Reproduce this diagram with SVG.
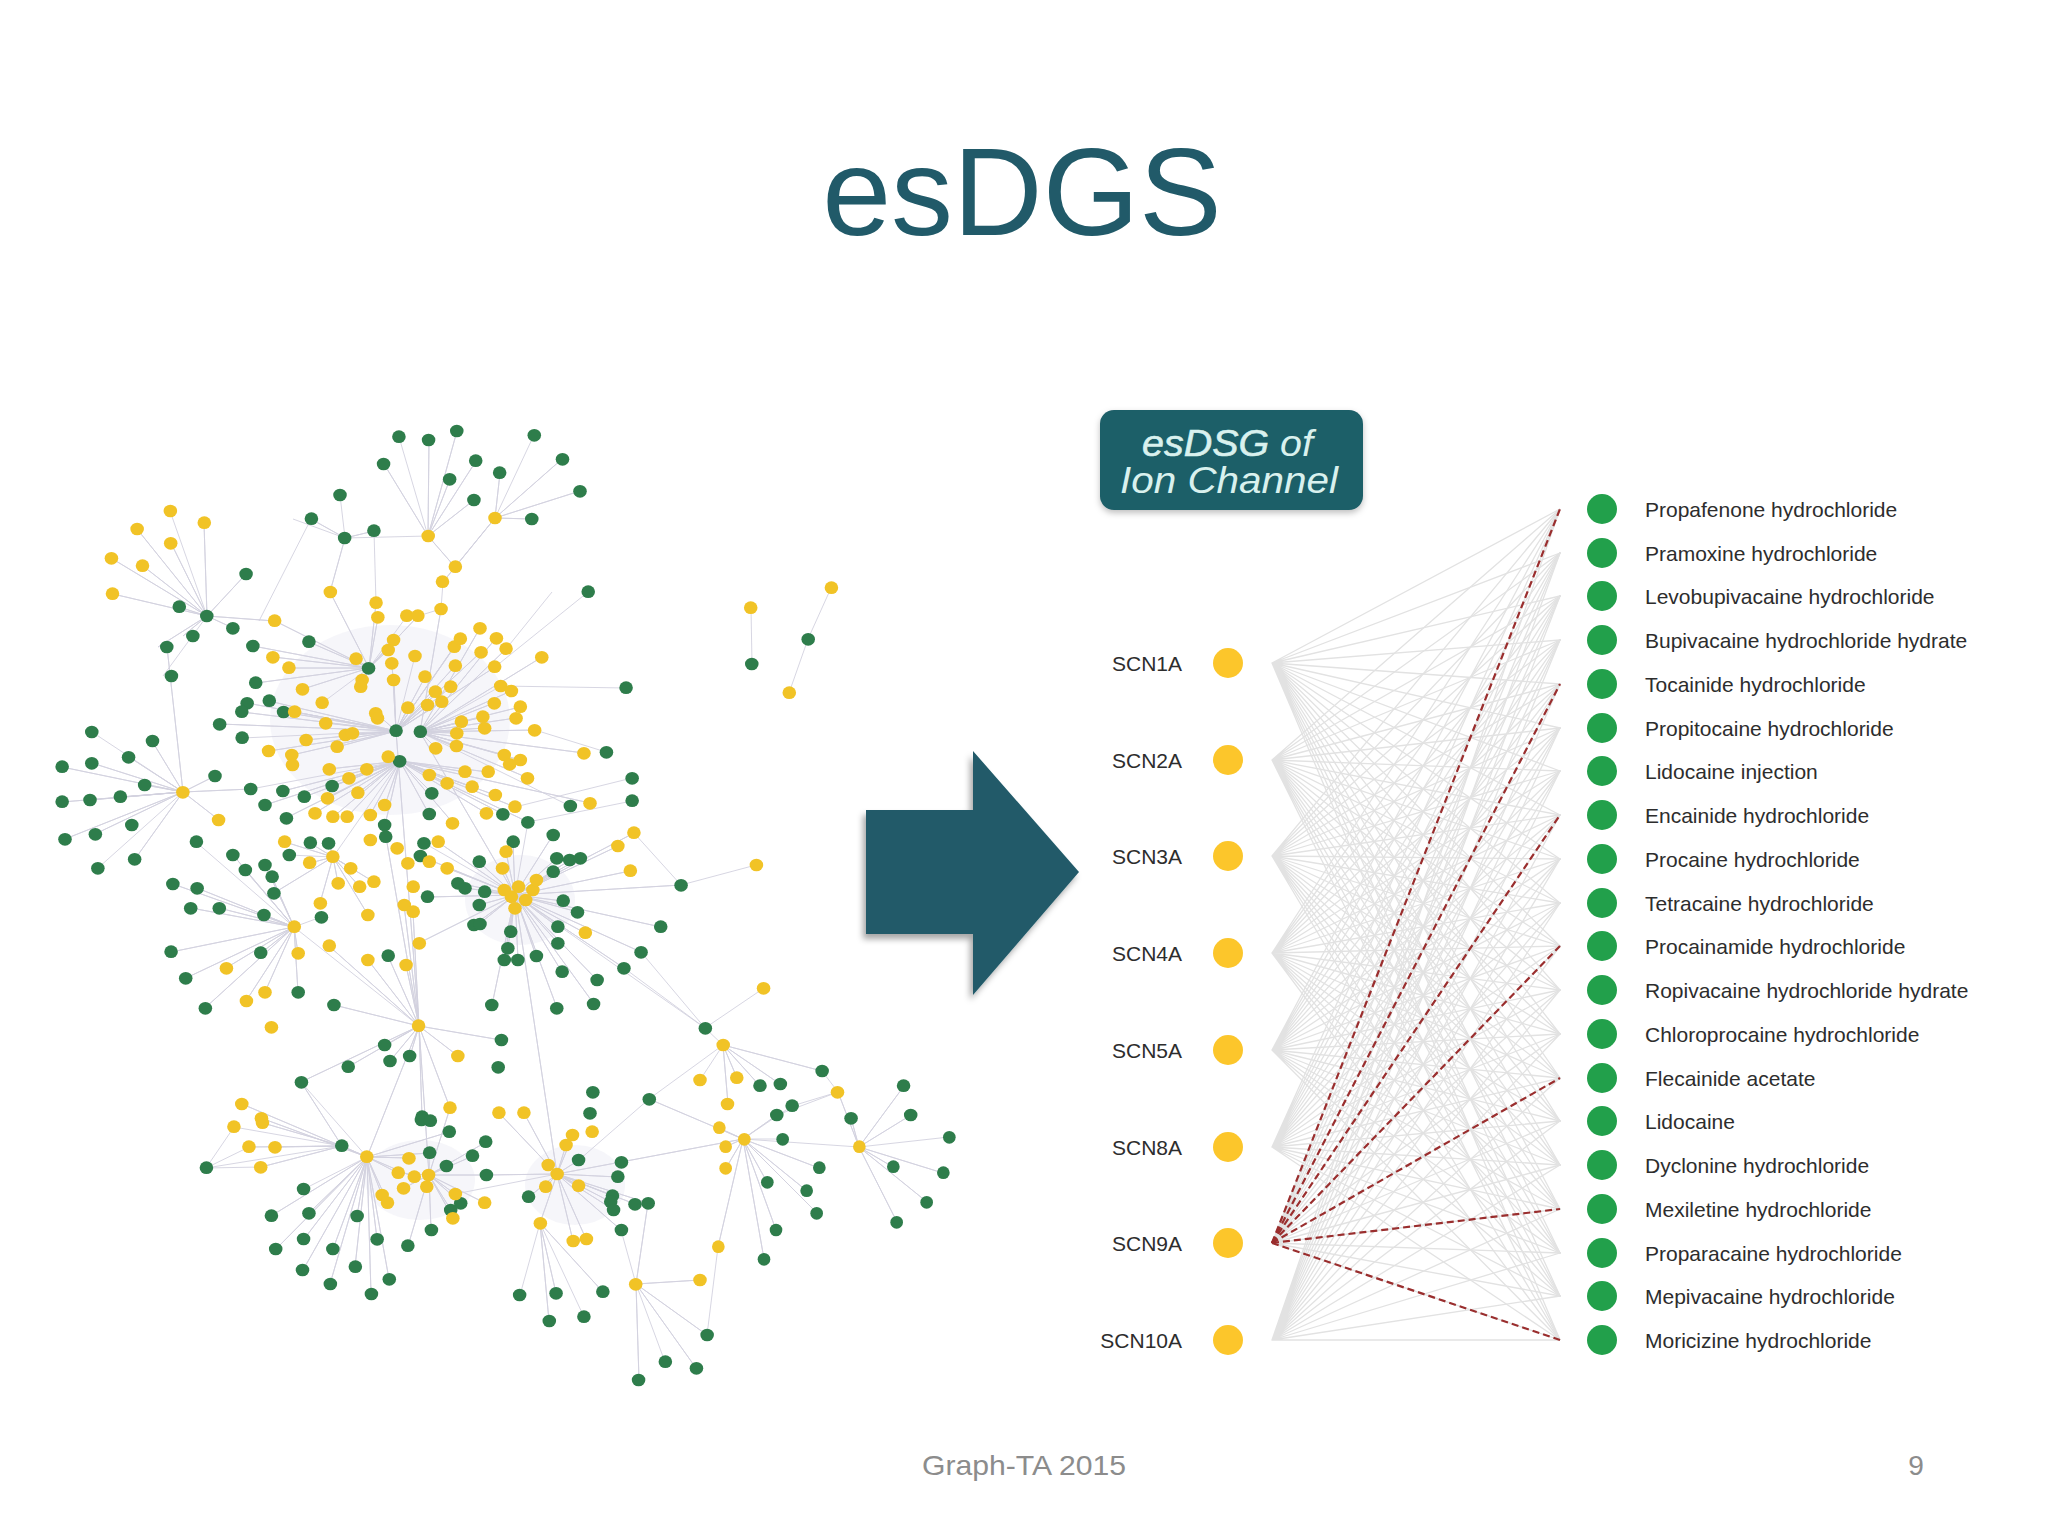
<svg xmlns="http://www.w3.org/2000/svg" width="2048" height="1536" viewBox="0 0 2048 1536">
<defs>
<style>
.sans{font-family:"Liberation Sans",Arial,sans-serif}
.ng{fill:#2e7d4b}
.ny{fill:#f1c326}
.ng circle,.ny circle{r:19px}
.ne{fill:none;stroke:#d3d1df;stroke-width:0.9;stroke-linejoin:round}
.haze{fill:#e6e4f0;opacity:0.35}
.bg{fill:none;stroke:#e2e2e2;stroke-width:1.3;stroke-linejoin:round}
.rd{fill:none;stroke:#9a2e2e;stroke-width:2.2;stroke-dasharray:7 4}
.dg{fill:#22a04b}
.dy{fill:#fcc62b}
.lbl{font-family:"Liberation Sans",Arial,sans-serif;font-size:21px;fill:#2d2d2d}
</style>
<filter id="sh" x="-20%" y="-20%" width="140%" height="140%">
<feDropShadow dx="-3" dy="5" stdDeviation="3" flood-color="#000" flood-opacity="0.35"/>
</filter>
<filter id="sh2" x="-10%" y="-10%" width="120%" height="130%">
<feDropShadow dx="0" dy="3" stdDeviation="3" flood-color="#000" flood-opacity="0.25"/>
</filter>
</defs>
<rect width="2048" height="1536" fill="#ffffff"/>

<text id="title" class="sans" x="1022" y="235" font-size="124" text-anchor="middle" fill="#215a69">esDGS</text>

<g id="network">
<g id="network-haze">
<ellipse class="haze" cx="390" cy="720" rx="120" ry="95"/>
<ellipse class="haze" cx="520" cy="900" rx="55" ry="45"/>
<ellipse class="haze" cx="420" cy="1180" rx="55" ry="40"/>
<ellipse class="haze" cx="575" cy="1185" rx="50" ry="40"/>
</g>
<g id="network-edges">
<path class="ne" d="M399 437L428 536 429 440 428 536 457 431 428 536 384 464 428 536 476 461 428 536 450 479 428 536 474 500 428 536 455 567 428 536 345 538"/>
<path class="ne" d="M534 435L495 518 562 459 495 518 500 473 495 518 580 491 495 518 532 519 495 518 455 567 495 518 443 582"/>
<path class="ne" d="M455 567L443 582 441 609 418 616M374 531L376 603M311 519L259 621"/>
<path class="ne" d="M340 495L345 538 311 519 345 538 374 531 345 538 330 592 345 538 293 519"/>
<path class="ne" d="M170 511L207 616 137 529 207 616 204 523 207 616 171 543 207 616 111 558 207 616 143 566 207 616 113 594 207 616 179 607 207 616 233 628 207 616 183 636 207 616 246 574 207 616 275 621 207 616 158 647 207 616 163 676"/>
<path class="ne" d="M92 732L183 792 62 767 183 792 92 763 183 792 62 802 183 792 90 800 183 792 120 797 183 792 129 757 183 792 152 741 183 792 145 785 183 792 215 776 183 792 251 789 183 792 219 820 183 792 167 647 183 792 65 839 183 792 95 834 183 792 135 859 183 792 98 868"/>
<path class="ne" d="M407 616L369 668 418 616 369 668 376 603 369 668 378 617 369 668 394 640 369 668 388 650 369 668 356 659 369 668 362 680 369 668 303 689 369 668 361 687 369 668 309 642 369 668 273 657 369 668 289 668 369 668 330 592 369 668 275 621 369 668 253 646 369 668 256 683 369 668 322 703"/>
<path class="ne" d="M415 656L396 731 454 647 396 731 460 639 396 731 481 652 396 731 392 663 396 731 455 666 396 731 495 667 396 731 425 677 396 731 394 680 396 731 435 692 396 731 451 687 396 731 408 708 396 731 428 705 396 731 442 702 396 731 376 713 396 731 295 712 396 731 326 723 396 731 306 740 396 731 345 735 396 731 337 747 396 731 269 751 396 731 292 755 396 731 284 712 396 731 269 701 396 731 247 703 396 731 242 712 396 731 220 724 396 731 242 738"/>
<path class="ne" d="M501 686L420 732 511 691 420 732 494 703 420 732 520 707 420 732 516 718 420 732 461 722 420 732 483 717 420 732 485 728 420 732 535 730 420 732 457 733 420 732 456 746 420 732 436 748 420 732 504 755 420 732 520 760 420 732 480 628 420 732 441 609 420 732 506 649 420 732 542 657 420 732 496 638 420 732 584 753 420 732 528 778 420 732 570 806"/>
<path class="ne" d="M388 757L400 761 329 769 400 761 367 769 400 761 429 775 400 761 465 772 400 761 488 772 400 761 349 778 400 761 358 793 400 761 447 783 400 761 472 787 400 761 328 798 400 761 385 805 400 761 315 813 400 761 333 817 400 761 347 817 400 761 370 815 400 761 432 793 400 761 429 814 400 761 503 814 400 761 528 822 400 761 385 825 400 761 332 786 400 761 304 797 400 761 283 791 400 761 265 805 400 761 286 818 400 761 495 795 400 761 515 807 400 761 486 813 400 761 453 823 400 761 590 803 400 761 251 789"/>
<path class="ne" d="M588 592L495 667M552 592L506 649M626 688L501 686M632 778L515 807M632 801L528 822M606 752L535 730M831 588L808 639 789 693M751 608L752 664"/>
<path class="ne" d="M424 843L515 895 420 856 515 895 479 862 515 895 513 842 515 895 553 835 515 895 557 858 515 895 570 860 515 895 580 858 515 895 553 872 515 895 458 883 515 895 465 888 515 895 485 892 515 895 479 905 515 895 428 897 515 895 474 925 515 895 479 924 515 895 563 901 515 895 578 912 515 895 558 927 515 895 511 932 515 895 558 943 515 895 508 948 515 895 504 960 515 895 518 960 515 895 536 956 515 895 562 972 515 895 597 980 515 895 506 852 515 895 503 868 515 895 438 842 515 895 447 868 515 895 585 933 515 895 419 943 515 895 492 1005 515 895 557 1008 515 895 594 1004 515 895 634 833 515 895 618 846 515 895 630 871 515 895 681 885 515 895 661 927 515 895 641 952 515 895 624 968 515 895 420 732 515 895 528 822"/>
<path class="ne" d="M681 885L756 865M681 885L634 833M705 1028L764 988M705 1028L723 1045M705 1028L624 968M705 1028L641 952M705 1028L515 895"/>
<path class="ne" d="M700 1080L723 1045 737 1078 723 1045 760 1086 723 1045 780 1084 723 1045 822 1071 723 1045 728 1104 723 1045 649 1099"/>
<path class="ne" d="M196 842L294 927 233 855 294 927 245 870 294 927 265 865 294 927 272 877 294 927 173 884 294 927 197 888 294 927 191 908 294 927 219 908 294 927 264 915 294 927 171 952 294 927 186 978 294 927 261 953 294 927 226 968 294 927 205 1008 294 927 265 992 294 927 246 1001 294 927 298 992 294 927 298 953 294 927 321 917"/>
<path class="ne" d="M289 855L333 857 310 843 333 857 329 843 333 857 285 842 333 857 338 883 333 857 360 887 333 857 320 903 333 857 274 893 333 857 351 868 333 857 374 882 333 857 368 915 333 857 310 863 333 857 400 761"/>
<path class="ne" d="M385 1045L419 1026 410 1056 419 1026 390 1061 419 1026 348 1067 419 1026 334 1005 419 1026 501 1040 419 1026 458 1056 419 1026 301 1082 419 1026 422 1117 419 1026 450 1108 419 1026 386 837 419 1026 396 731 419 1026 413 912 419 1026 404 905 419 1026 406 965 419 1026 368 960 419 1026 329 946 419 1026 388 956 419 1026 294 927"/>
<path class="ne" d="M304 1189L367 1157 271 1216 367 1157 309 1213 367 1157 357 1216 367 1157 276 1249 367 1157 304 1239 367 1157 333 1249 367 1157 377 1239 367 1157 355 1267 367 1157 303 1270 367 1157 330 1284 367 1157 389 1279 367 1157 371 1294 367 1157 342 1146 367 1157 409 1158 367 1157 398 1173 367 1157 414 1177 367 1157 382 1195 367 1157 388 1203 367 1157 449 1132 367 1157 430 1153 367 1157 242 1104 367 1157 261 1118 367 1157 419 1026 367 1157 301 1082"/>
<path class="ne" d="M234 1127L342 1146 263 1123 342 1146 249 1147 342 1146 275 1147 342 1146 261 1167 342 1146 301 1082 342 1146 206 1168M206 1168L234 1127M206 1168L261 1167M206 1168L249 1147"/>
<path class="ne" d="M430 1153L429 1175 446 1166 429 1175 473 1156 429 1175 486 1142 429 1175 486 1175 429 1175 451 1210 429 1175 461 1203 429 1175 455 1194 429 1175 453 1218 429 1175 485 1203 429 1175 427 1187 429 1175 404 1188 429 1175 431 1230 429 1175 408 1246 429 1175 419 1026 429 1175 450 1108 429 1175 398 1173"/>
<path class="ne" d="M548 1165L557 1174 546 1187 557 1174 579 1186 557 1174 579 1160 557 1174 621 1162 557 1174 618 1177 557 1174 613 1196 557 1174 611 1202 557 1174 614 1210 557 1174 621 1230 557 1174 635 1204 557 1174 648 1203 557 1174 529 1197 557 1174 540 1223 557 1174 573 1241 557 1174 586 1239 557 1174 566 1145 557 1174 573 1135 557 1174 524 1113 557 1174 499 1113 557 1174 515 895 557 1174 486 1175 557 1174 455 1194"/>
<path class="ne" d="M520 1295L540 1223 556 1293 540 1223 603 1292 540 1223 549 1321 540 1223 584 1317"/>
<path class="ne" d="M665 1362L636 1284 696 1368 636 1284 639 1380 636 1284 707 1335 636 1284 648 1203 636 1284 700 1280 636 1284 621 1230"/>
<path class="ne" d="M949 1137L859 1147 893 1167 859 1147 943 1173 859 1147 927 1202 859 1147 897 1222 859 1147 904 1086 859 1147 851 1118 859 1147 911 1115 859 1147 838 1092 859 1147 743 1139"/>
<path class="ne" d="M783 1139L743 1139 819 1168 743 1139 807 1191 743 1139 817 1213 743 1139 767 1182 743 1139 776 1230 743 1139 764 1259 743 1139 718 1247 743 1139 649 1099 743 1139 621 1162 743 1139 726 1168 743 1139 725 1147 743 1139 719 1128 743 1139 777 1115 743 1139 792 1106"/>
<path class="ne" d="M838 1092L777 1115M838 1092L792 1106M838 1092L822 1071M718 1247L707 1335M579 1160L649 1099"/>
</g>

<g id="dots-a" transform="translate(40,410) scale(0.35714,0.33333)">
<g class="ng">
<circle cx="1005" cy="80" r="19"/><circle cx="1088" cy="90" r="19"/><circle cx="1167" cy="63" r="19"/><circle cx="1384" cy="76" r="19"/><circle cx="1463" cy="148" r="19"/><circle cx="962" cy="162" r="19"/><circle cx="1220" cy="152" r="19"/><circle cx="1287" cy="188" r="19"/><circle cx="1147" cy="208" r="19"/><circle cx="1512" cy="244" r="19"/><circle cx="1215" cy="270" r="19"/><circle cx="1377" cy="327" r="19"/><circle cx="840" cy="255" r="19"/><circle cx="760" cy="326" r="19"/><circle cx="853" cy="384" r="19"/><circle cx="935" cy="362" r="19"/><circle cx="577" cy="492" r="19"/><circle cx="1535" cy="545" r="19"/><circle cx="390" cy="590" r="19"/><circle cx="467" cy="618" r="19"/><circle cx="540" cy="655" r="19"/><circle cx="428" cy="678" r="19"/><circle cx="596" cy="708" r="19"/><circle cx="753" cy="695" r="19"/><circle cx="355" cy="711" r="19"/><circle cx="368" cy="798" r="19"/><circle cx="920" cy="775" r="19"/><circle cx="604" cy="818" r="19"/><circle cx="580" cy="880" r="19"/><circle cx="642" cy="872" r="19"/><circle cx="565" cy="905" r="19"/><circle cx="682" cy="906" r="19"/><circle cx="503" cy="943" r="19"/><circle cx="566" cy="983" r="19"/><circle cx="997" cy="962" r="19"/><circle cx="1065" cy="965" r="19"/><circle cx="1007" cy="1054" r="19"/><circle cx="145" cy="966" r="19"/><circle cx="315" cy="993" r="19"/><circle cx="248" cy="1042" r="19"/><circle cx="62" cy="1070" r="19"/><circle cx="145" cy="1060" r="19"/><circle cx="293" cy="1125" r="19"/><circle cx="490" cy="1098" r="19"/><circle cx="62" cy="1175" r="19"/><circle cx="140" cy="1170" r="19"/><circle cx="225" cy="1160" r="19"/><circle cx="257" cy="1245" r="19"/><circle cx="590" cy="1137" r="19"/><circle cx="630" cy="1185" r="19"/><circle cx="680" cy="1143" r="19"/><circle cx="740" cy="1160" r="19"/><circle cx="818" cy="1128" r="19"/><circle cx="690" cy="1225" r="19"/><circle cx="1097" cy="1150" r="19"/><circle cx="1090" cy="1212" r="19"/><circle cx="1296" cy="1213" r="19"/><circle cx="1366" cy="1237" r="19"/><circle cx="1485" cy="1188" r="19"/><circle cx="965" cy="1245" r="19"/>
</g>
<g class="ny">
<circle cx="365" cy="303" r="19"/><circle cx="272" cy="357" r="19"/><circle cx="460" cy="338" r="19"/><circle cx="366" cy="400" r="19"/><circle cx="200" cy="445" r="19"/><circle cx="287" cy="467" r="19"/><circle cx="203" cy="551" r="19"/><circle cx="1087" cy="378" r="19"/><circle cx="1274" cy="324" r="19"/><circle cx="1163" cy="470" r="19"/><circle cx="1127" cy="515" r="19"/><circle cx="1123" cy="597" r="19"/><circle cx="813" cy="546" r="19"/><circle cx="941" cy="578" r="19"/><circle cx="946" cy="622" r="19"/><circle cx="1027" cy="617" r="19"/><circle cx="1058" cy="617" r="19"/><circle cx="657" cy="632" r="19"/><circle cx="1232" cy="655" r="19"/><circle cx="990" cy="690" r="19"/><circle cx="975" cy="720" r="19"/><circle cx="1050" cy="738" r="19"/><circle cx="1160" cy="710" r="19"/><circle cx="1177" cy="686" r="19"/><circle cx="1235" cy="727" r="19"/><circle cx="1278" cy="685" r="19"/><circle cx="1305" cy="716" r="19"/><circle cx="1405" cy="742" r="19"/><circle cx="652" cy="742" r="19"/><circle cx="697" cy="773" r="19"/><circle cx="885" cy="746" r="19"/><circle cx="985" cy="760" r="19"/><circle cx="1163" cy="767" r="19"/><circle cx="1273" cy="770" r="19"/><circle cx="1078" cy="800" r="19"/><circle cx="990" cy="810" r="19"/><circle cx="902" cy="810" r="19"/><circle cx="735" cy="838" r="19"/><circle cx="898" cy="830" r="19"/><circle cx="1290" cy="828" r="19"/><circle cx="1320" cy="843" r="19"/><circle cx="1107" cy="845" r="19"/><circle cx="1150" cy="830" r="19"/><circle cx="790" cy="878" r="19"/><circle cx="1030" cy="893" r="19"/><circle cx="1085" cy="885" r="19"/><circle cx="1125" cy="875" r="19"/><circle cx="1272" cy="880" r="19"/><circle cx="1345" cy="890" r="19"/><circle cx="940" cy="910" r="19"/><circle cx="1333" cy="925" r="19"/><circle cx="945" cy="925" r="19"/><circle cx="1180" cy="935" r="19"/><circle cx="1240" cy="920" r="19"/><circle cx="1245" cy="955" r="19"/><circle cx="713" cy="905" r="19"/><circle cx="800" cy="940" r="19"/><circle cx="1385" cy="961" r="19"/><circle cx="1167" cy="970" r="19"/><circle cx="1166" cy="1008" r="19"/><circle cx="745" cy="990" r="19"/><circle cx="855" cy="975" r="19"/><circle cx="875" cy="970" r="19"/><circle cx="832" cy="1010" r="19"/><circle cx="1108" cy="1015" r="19"/><circle cx="640" cy="1023" r="19"/><circle cx="705" cy="1035" r="19"/><circle cx="707" cy="1065" r="19"/><circle cx="975" cy="1040" r="19"/><circle cx="1300" cy="1035" r="19"/><circle cx="1345" cy="1050" r="19"/><circle cx="1315" cy="1063" r="19"/><circle cx="1523" cy="1030" r="19"/><circle cx="810" cy="1078" r="19"/><circle cx="915" cy="1078" r="19"/><circle cx="1090" cy="1095" r="19"/><circle cx="1190" cy="1085" r="19"/><circle cx="1255" cy="1085" r="19"/><circle cx="1365" cy="1105" r="19"/><circle cx="865" cy="1105" r="19"/><circle cx="400" cy="1147" r="19"/><circle cx="890" cy="1148" r="19"/><circle cx="1140" cy="1120" r="19"/><circle cx="1210" cy="1130" r="19"/><circle cx="1275" cy="1155" r="19"/><circle cx="805" cy="1165" r="19"/><circle cx="965" cy="1185" r="19"/><circle cx="1330" cy="1190" r="19"/><circle cx="1540" cy="1180" r="19"/><circle cx="500" cy="1230" r="19"/><circle cx="770" cy="1210" r="19"/><circle cx="820" cy="1220" r="19"/><circle cx="860" cy="1220" r="19"/><circle cx="925" cy="1215" r="19"/><circle cx="1250" cy="1210" r="19"/><circle cx="1155" cy="1240" r="19"/>
</g>
</g>

<g id="dots-b" transform="translate(400,410) scale(0.35714,0.33333)">
<g class="ng"><circle cx="1143" cy="688" r="19"/><circle cx="985" cy="762" r="19"/><circle cx="633" cy="833" r="19"/><circle cx="650" cy="1105" r="19"/><circle cx="650" cy="1172" r="19"/><circle cx="578" cy="1027" r="19"/></g>
<g class="ny"><circle cx="1208" cy="533" r="19"/><circle cx="982" cy="593" r="19"/><circle cx="1090" cy="848" r="19"/></g>
</g>

<g id="dots-c" transform="translate(40,780) scale(0.35714,0.33333)">
<g class="ng">
<circle cx="70" cy="178" r="19"/><circle cx="155" cy="163" r="19"/><circle cx="438" cy="185" r="19"/><circle cx="265" cy="238" r="19"/><circle cx="162" cy="265" r="19"/><circle cx="540" cy="225" r="19"/><circle cx="575" cy="270" r="19"/><circle cx="630" cy="255" r="19"/><circle cx="650" cy="290" r="19"/><circle cx="698" cy="225" r="19"/><circle cx="757" cy="188" r="19"/><circle cx="808" cy="190" r="19"/><circle cx="372" cy="312" r="19"/><circle cx="440" cy="325" r="19"/><circle cx="655" cy="340" r="19"/><circle cx="422" cy="385" r="19"/><circle cx="502" cy="385" r="19"/><circle cx="627" cy="405" r="19"/><circle cx="788" cy="412" r="19"/><circle cx="968" cy="170" r="19"/><circle cx="1075" cy="190" r="19"/><circle cx="1065" cy="228" r="19"/><circle cx="1230" cy="245" r="19"/><circle cx="1325" cy="185" r="19"/><circle cx="1437" cy="165" r="19"/><circle cx="1447" cy="235" r="19"/><circle cx="1483" cy="240" r="19"/><circle cx="1513" cy="235" r="19"/><circle cx="1437" cy="275" r="19"/><circle cx="1170" cy="310" r="19"/><circle cx="1190" cy="325" r="19"/><circle cx="1245" cy="335" r="19"/><circle cx="1230" cy="375" r="19"/><circle cx="1085" cy="350" r="19"/><circle cx="1215" cy="435" r="19"/><circle cx="1232" cy="432" r="19"/><circle cx="1465" cy="362" r="19"/><circle cx="1505" cy="397" r="19"/><circle cx="1450" cy="440" r="19"/><circle cx="1318" cy="455" r="19"/><circle cx="1450" cy="490" r="19"/><circle cx="1310" cy="505" r="19"/><circle cx="1300" cy="540" r="19"/><circle cx="1338" cy="540" r="19"/><circle cx="1390" cy="528" r="19"/><circle cx="1462" cy="575" r="19"/><circle cx="1560" cy="600" r="19"/><circle cx="975" cy="527" r="19"/><circle cx="618" cy="518" r="19"/><circle cx="367" cy="515" r="19"/><circle cx="408" cy="595" r="19"/><circle cx="723" cy="637" r="19"/><circle cx="463" cy="685" r="19"/><circle cx="823" cy="675" r="19"/><circle cx="1265" cy="675" r="19"/><circle cx="1447" cy="685" r="19"/><circle cx="1550" cy="672" r="19"/><circle cx="1292" cy="780" r="19"/><circle cx="965" cy="795" r="19"/><circle cx="1035" cy="828" r="19"/><circle cx="980" cy="843" r="19"/><circle cx="863" cy="860" r="19"/><circle cx="1283" cy="862" r="19"/><circle cx="1548" cy="937" r="19"/><circle cx="732" cy="907" r="19"/><circle cx="1540" cy="1000" r="19"/><circle cx="1070" cy="1010" r="19"/>
</g>
<g class="ny">
<circle cx="685" cy="185" r="19"/><circle cx="755" cy="248" r="19"/><circle cx="820" cy="230" r="19"/><circle cx="925" cy="180" r="19"/><circle cx="1000" cy="205" r="19"/><circle cx="1030" cy="250" r="19"/><circle cx="1090" cy="245" r="19"/><circle cx="1140" cy="265" r="19"/><circle cx="1115" cy="185" r="19"/><circle cx="1305" cy="215" r="19"/><circle cx="1295" cy="265" r="19"/><circle cx="1300" cy="330" r="19"/><circle cx="1340" cy="320" r="19"/><circle cx="1380" cy="330" r="19"/><circle cx="1390" cy="300" r="19"/><circle cx="1330" cy="385" r="19"/><circle cx="1320" cy="350" r="19"/><circle cx="1360" cy="360" r="19"/><circle cx="835" cy="310" r="19"/><circle cx="895" cy="320" r="19"/><circle cx="935" cy="305" r="19"/><circle cx="870" cy="265" r="19"/><circle cx="1045" cy="320" r="19"/><circle cx="1020" cy="375" r="19"/><circle cx="1045" cy="395" r="19"/><circle cx="785" cy="370" r="19"/><circle cx="918" cy="405" r="19"/><circle cx="712" cy="440" r="19"/><circle cx="1527" cy="458" r="19"/><circle cx="1062" cy="490" r="19"/><circle cx="1025" cy="555" r="19"/><circle cx="918" cy="540" r="19"/><circle cx="810" cy="497" r="19"/><circle cx="723" cy="520" r="19"/><circle cx="522" cy="565" r="19"/><circle cx="630" cy="637" r="19"/><circle cx="578" cy="663" r="19"/><circle cx="648" cy="742" r="19"/><circle cx="1060" cy="737" r="19"/><circle cx="1170" cy="828" r="19"/><circle cx="565" cy="972" r="19"/><circle cx="1148" cy="983" r="19"/><circle cx="1285" cy="998" r="19"/><circle cx="1355" cy="998" r="19"/><circle cx="620" cy="1015" r="19"/>
</g>
</g>

<g id="dots-d" transform="translate(400,780) scale(0.35714,0.33333)">
<g class="ng"><circle cx="787" cy="316" r="19"/><circle cx="730" cy="440" r="19"/><circle cx="675" cy="517" r="19"/><circle cx="627" cy="565" r="19"/><circle cx="855" cy="745" r="19"/><circle cx="1008" cy="917" r="19"/><circle cx="1065" cy="912" r="19"/><circle cx="1182" cy="873" r="19"/><circle cx="1410" cy="917" r="19"/><circle cx="1098" cy="977" r="19"/><circle cx="1055" cy="1005" r="19"/><circle cx="1263" cy="1015" r="19"/><circle cx="1430" cy="1005" r="19"/><circle cx="698" cy="958" r="19"/></g>
<g class="ny"><circle cx="655" cy="158" r="19"/><circle cx="610" cy="198" r="19"/><circle cx="645" cy="272" r="19"/><circle cx="998" cy="255" r="19"/><circle cx="1018" cy="625" r="19"/><circle cx="905" cy="795" r="19"/><circle cx="840" cy="900" r="19"/><circle cx="943" cy="893" r="19"/><circle cx="1225" cy="937" r="19"/><circle cx="917" cy="972" r="19"/></g>
</g>

<g id="dots-e" transform="translate(150,1020) scale(0.35714,0.33333)">
<g class="ng">
<circle cx="158" cy="443" r="19"/><circle cx="537" cy="377" r="19"/><circle cx="430" cy="507" r="19"/><circle cx="340" cy="587" r="19"/><circle cx="445" cy="580" r="19"/><circle cx="580" cy="588" r="19"/><circle cx="352" cy="687" r="19"/><circle cx="430" cy="657" r="19"/><circle cx="512" cy="687" r="19"/><circle cx="636" cy="658" r="19"/><circle cx="722" cy="677" r="19"/><circle cx="788" cy="630" r="19"/><circle cx="575" cy="740" r="19"/><circle cx="427" cy="750" r="19"/><circle cx="505" cy="792" r="19"/><circle cx="670" cy="778" r="19"/><circle cx="620" cy="822" r="19"/><circle cx="783" cy="398" r="19"/><circle cx="830" cy="438" r="19"/><circle cx="903" cy="407" r="19"/><circle cx="940" cy="365" r="19"/><circle cx="942" cy="465" r="19"/><circle cx="838" cy="335" r="19"/><circle cx="1060" cy="530" r="19"/><circle cx="1200" cy="420" r="19"/><circle cx="1320" cy="427" r="19"/><circle cx="1310" cy="470" r="19"/><circle cx="1295" cy="527" r="19"/><circle cx="1290" cy="545" r="19"/><circle cx="1298" cy="570" r="19"/><circle cx="1320" cy="630" r="19"/><circle cx="1358" cy="553" r="19"/><circle cx="1395" cy="550" r="19"/><circle cx="1035" cy="825" r="19"/><circle cx="1137" cy="820" r="19"/><circle cx="1268" cy="815" r="19"/><circle cx="1118" cy="903" r="19"/><circle cx="1215" cy="890" r="19"/><circle cx="1443" cy="1025" r="19"/><circle cx="1530" cy="1045" r="19"/><circle cx="1368" cy="1080" r="19"/><circle cx="1560" cy="945" r="19"/><circle cx="842" cy="570" r="19"/><circle cx="870" cy="550" r="19"/><circle cx="760" cy="300" r="19"/><circle cx="785" cy="302" r="19"/>
</g>
<g class="ny">
<circle cx="235" cy="320" r="19"/><circle cx="315" cy="308" r="19"/><circle cx="277" cy="380" r="19"/><circle cx="350" cy="382" r="19"/><circle cx="310" cy="442" r="19"/><circle cx="607" cy="410" r="19"/><circle cx="725" cy="415" r="19"/><circle cx="695" cy="458" r="19"/><circle cx="740" cy="470" r="19"/><circle cx="780" cy="465" r="19"/><circle cx="775" cy="500" r="19"/><circle cx="710" cy="505" r="19"/><circle cx="650" cy="525" r="19"/><circle cx="665" cy="548" r="19"/><circle cx="855" cy="522" r="19"/><circle cx="848" cy="595" r="19"/><circle cx="937" cy="548" r="19"/><circle cx="1115" cy="435" r="19"/><circle cx="1140" cy="462" r="19"/><circle cx="1108" cy="500" r="19"/><circle cx="1200" cy="497" r="19"/><circle cx="1093" cy="610" r="19"/><circle cx="1185" cy="663" r="19"/><circle cx="1222" cy="657" r="19"/><circle cx="1360" cy="793" r="19"/><circle cx="1540" cy="780" r="19"/><circle cx="1165" cy="375" r="19"/><circle cx="1183" cy="345" r="19"/><circle cx="1238" cy="335" r="19"/>
</g>
</g>

<g id="dots-f" transform="translate(560,1000) scale(0.33333)">
<g class="ng"><circle cx="668" cy="418" r="20"/><circle cx="1168" cy="412" r="20"/><circle cx="1000" cy="500" r="20"/><circle cx="1150" cy="518" r="20"/><circle cx="1100" cy="607" r="20"/><circle cx="1010" cy="667" r="20"/><circle cx="778" cy="503" r="20"/><circle cx="740" cy="572" r="20"/><circle cx="770" cy="640" r="20"/><circle cx="622" cy="547" r="20"/><circle cx="648" cy="690" r="20"/><circle cx="612" cy="778" r="20"/></g>
<g class="ny"><circle cx="898" cy="440" r="20"/><circle cx="497" cy="505" r="20"/><circle cx="475" cy="740" r="20"/><circle cx="553" cy="418" r="20"/><circle cx="497" cy="440" r="20"/><circle cx="478" cy="383" r="20"/></g>
</g>
</g>

<g id="arrow">
<polygon points="866,810 973,810 973,751 1079,872 973,995 973,934 866,934" fill="#215a69" filter="url(#sh)"/>
</g>

<g id="legend-box">
<rect x="1100" y="410" width="263" height="100" rx="14" fill="#1e5e67" filter="url(#sh2)"/>
<text class="sans" x="1142" y="456" font-size="36" font-style="italic" fill="#d9f1ee" textLength="171" lengthAdjust="spacingAndGlyphs"><tspan stroke="#d9f1ee" stroke-width="0.6">esDSG</tspan> of</text>
<text class="sans" x="1120" y="493" font-size="36" font-style="italic" fill="#d9f1ee" textLength="218" lengthAdjust="spacingAndGlyphs">Ion Channel</text>
</g>

<g id="edges">
<path class="bg" d="M1560 509L1272 663 1560 553 1272 663 1560 596 1272 663 1560 640 1272 663 1560 684 1272 663 1560 728 1272 663 1560 771 1272 663 1560 815 1272 663 1560 859 1272 663 1560 903 1272 663 1560 946 1272 663 1560 990 1272 663 1560 1034 1272 663 1560 1078 1272 663 1560 1121 1272 663 1560 1165 1272 663 1560 1209 1272 663 1560 1253 1272 663 1560 1296 1272 663 1560 1340"/>
<path class="bg" d="M1560 509L1272 760 1560 553 1272 760 1560 596 1272 760 1560 640 1272 760 1560 684 1272 760 1560 728 1272 760 1560 771 1272 760 1560 815 1272 760 1560 859 1272 760 1560 903 1272 760 1560 946 1272 760 1560 990 1272 760 1560 1034 1272 760 1560 1078 1272 760 1560 1121 1272 760 1560 1165 1272 760 1560 1209 1272 760 1560 1253 1272 760 1560 1296 1272 760 1560 1340"/>
<path class="bg" d="M1560 509L1272 856 1560 553 1272 856 1560 596 1272 856 1560 640 1272 856 1560 684 1272 856 1560 728 1272 856 1560 771 1272 856 1560 815 1272 856 1560 859 1272 856 1560 903 1272 856 1560 946 1272 856 1560 990 1272 856 1560 1034 1272 856 1560 1078 1272 856 1560 1121 1272 856 1560 1165 1272 856 1560 1209 1272 856 1560 1253 1272 856 1560 1296 1272 856 1560 1340"/>
<path class="bg" d="M1560 509L1272 953 1560 553 1272 953 1560 596 1272 953 1560 640 1272 953 1560 684 1272 953 1560 728 1272 953 1560 771 1272 953 1560 815 1272 953 1560 859 1272 953 1560 903 1272 953 1560 946 1272 953 1560 990 1272 953 1560 1034 1272 953 1560 1078 1272 953 1560 1121 1272 953 1560 1165 1272 953 1560 1209 1272 953 1560 1253 1272 953 1560 1296 1272 953 1560 1340"/>
<path class="bg" d="M1560 509L1272 1050 1560 553 1272 1050 1560 596 1272 1050 1560 640 1272 1050 1560 684 1272 1050 1560 728 1272 1050 1560 771 1272 1050 1560 815 1272 1050 1560 859 1272 1050 1560 903 1272 1050 1560 946 1272 1050 1560 990 1272 1050 1560 1034 1272 1050 1560 1078 1272 1050 1560 1121 1272 1050 1560 1165 1272 1050 1560 1209 1272 1050 1560 1253 1272 1050 1560 1296 1272 1050 1560 1340"/>
<path class="bg" d="M1560 509L1272 1147 1560 553 1272 1147 1560 596 1272 1147 1560 640 1272 1147 1560 684 1272 1147 1560 728 1272 1147 1560 771 1272 1147 1560 815 1272 1147 1560 859 1272 1147 1560 903 1272 1147 1560 946 1272 1147 1560 990 1272 1147 1560 1034 1272 1147 1560 1078 1272 1147 1560 1121 1272 1147 1560 1165 1272 1147 1560 1209 1272 1147 1560 1253 1272 1147 1560 1296 1272 1147 1560 1340"/>
<path class="bg" d="M1560 509L1272 1243 1560 553 1272 1243 1560 596 1272 1243 1560 640 1272 1243 1560 684 1272 1243 1560 728 1272 1243 1560 771 1272 1243 1560 815 1272 1243 1560 859 1272 1243 1560 903 1272 1243 1560 946 1272 1243 1560 990 1272 1243 1560 1034 1272 1243 1560 1078 1272 1243 1560 1121 1272 1243 1560 1165 1272 1243 1560 1209 1272 1243 1560 1253 1272 1243 1560 1296 1272 1243 1560 1340"/>
<path class="bg" d="M1560 509L1272 1340 1560 553 1272 1340 1560 596 1272 1340 1560 640 1272 1340 1560 684 1272 1340 1560 728 1272 1340 1560 771 1272 1340 1560 815 1272 1340 1560 859 1272 1340 1560 903 1272 1340 1560 946 1272 1340 1560 990 1272 1340 1560 1034 1272 1340 1560 1078 1272 1340 1560 1121 1272 1340 1560 1165 1272 1340 1560 1209 1272 1340 1560 1253 1272 1340 1560 1296 1272 1340 1560 1340"/>
<g id="scn9a-links">
<line class="rd" x1="1272" y1="1243" x2="1560" y2="509"/>
<line class="rd" x1="1272" y1="1243" x2="1560" y2="684"/>
<line class="rd" x1="1272" y1="1243" x2="1560" y2="815"/>
<line class="rd" x1="1272" y1="1243" x2="1560" y2="946"/>
<line class="rd" x1="1272" y1="1243" x2="1560" y2="1078"/>
<line class="rd" x1="1272" y1="1243" x2="1560" y2="1209"/>
<line class="rd" x1="1272" y1="1243" x2="1560" y2="1340"/>
</g>
</g>

<g id="targets">
<g id="scn1a"><circle class="dy" cx="1228" cy="663" r="15"/><text class="lbl" x="1182" y="670.5" text-anchor="end">SCN1A</text></g>
<g id="scn2a"><circle class="dy" cx="1228" cy="760" r="15"/><text class="lbl" x="1182" y="767.5" text-anchor="end">SCN2A</text></g>
<g id="scn3a"><circle class="dy" cx="1228" cy="856" r="15"/><text class="lbl" x="1182" y="863.5" text-anchor="end">SCN3A</text></g>
<g id="scn4a"><circle class="dy" cx="1228" cy="953" r="15"/><text class="lbl" x="1182" y="960.5" text-anchor="end">SCN4A</text></g>
<g id="scn5a"><circle class="dy" cx="1228" cy="1050" r="15"/><text class="lbl" x="1182" y="1057.5" text-anchor="end">SCN5A</text></g>
<g id="scn8a"><circle class="dy" cx="1228" cy="1147" r="15"/><text class="lbl" x="1182" y="1154.5" text-anchor="end">SCN8A</text></g>
<g id="scn9a"><circle class="dy" cx="1228" cy="1243" r="15"/><text class="lbl" x="1182" y="1250.5" text-anchor="end">SCN9A</text></g>
<g id="scn10a"><circle class="dy" cx="1228" cy="1340" r="15"/><text class="lbl" x="1182" y="1347.5" text-anchor="end">SCN10A</text></g>
</g>

<g id="drugs">
<g id="d0"><circle class="dg" cx="1602" cy="509" r="15"/><text class="lbl" x="1645" y="516.5">Propafenone hydrochloride</text></g>
<g id="d1"><circle class="dg" cx="1602" cy="553" r="15"/><text class="lbl" x="1645" y="560.5">Pramoxine hydrochloride</text></g>
<g id="d2"><circle class="dg" cx="1602" cy="596" r="15"/><text class="lbl" x="1645" y="603.5">Levobupivacaine hydrochloride</text></g>
<g id="d3"><circle class="dg" cx="1602" cy="640" r="15"/><text class="lbl" x="1645" y="647.5">Bupivacaine hydrochloride hydrate</text></g>
<g id="d4"><circle class="dg" cx="1602" cy="684" r="15"/><text class="lbl" x="1645" y="691.5">Tocainide hydrochloride</text></g>
<g id="d5"><circle class="dg" cx="1602" cy="728" r="15"/><text class="lbl" x="1645" y="735.5">Propitocaine hydrochloride</text></g>
<g id="d6"><circle class="dg" cx="1602" cy="771" r="15"/><text class="lbl" x="1645" y="778.5">Lidocaine injection</text></g>
<g id="d7"><circle class="dg" cx="1602" cy="815" r="15"/><text class="lbl" x="1645" y="822.5">Encainide hydrochloride</text></g>
<g id="d8"><circle class="dg" cx="1602" cy="859" r="15"/><text class="lbl" x="1645" y="866.5">Procaine hydrochloride</text></g>
<g id="d9"><circle class="dg" cx="1602" cy="903" r="15"/><text class="lbl" x="1645" y="910.5">Tetracaine hydrochloride</text></g>
<g id="d10"><circle class="dg" cx="1602" cy="946" r="15"/><text class="lbl" x="1645" y="953.5">Procainamide hydrochloride</text></g>
<g id="d11"><circle class="dg" cx="1602" cy="990" r="15"/><text class="lbl" x="1645" y="997.5">Ropivacaine hydrochloride hydrate</text></g>
<g id="d12"><circle class="dg" cx="1602" cy="1034" r="15"/><text class="lbl" x="1645" y="1041.5">Chloroprocaine hydrochloride</text></g>
<g id="d13"><circle class="dg" cx="1602" cy="1078" r="15"/><text class="lbl" x="1645" y="1085.5">Flecainide acetate</text></g>
<g id="d14"><circle class="dg" cx="1602" cy="1121" r="15"/><text class="lbl" x="1645" y="1128.5">Lidocaine</text></g>
<g id="d15"><circle class="dg" cx="1602" cy="1165" r="15"/><text class="lbl" x="1645" y="1172.5">Dyclonine hydrochloride</text></g>
<g id="d16"><circle class="dg" cx="1602" cy="1209" r="15"/><text class="lbl" x="1645" y="1216.5">Mexiletine hydrochloride</text></g>
<g id="d17"><circle class="dg" cx="1602" cy="1253" r="15"/><text class="lbl" x="1645" y="1260.5">Proparacaine hydrochloride</text></g>
<g id="d18"><circle class="dg" cx="1602" cy="1296" r="15"/><text class="lbl" x="1645" y="1303.5">Mepivacaine hydrochloride</text></g>
<g id="d19"><circle class="dg" cx="1602" cy="1340" r="15"/><text class="lbl" x="1645" y="1347.5">Moricizine hydrochloride</text></g>
</g>

<g id="footer">
<text class="sans" x="922" y="1475" font-size="28" fill="#8c8c8c" textLength="204" lengthAdjust="spacingAndGlyphs">Graph-TA 2015</text>
<text class="sans" x="1916" y="1475" font-size="28" text-anchor="middle" fill="#8c8c8c">9</text>
</g>
</svg>
